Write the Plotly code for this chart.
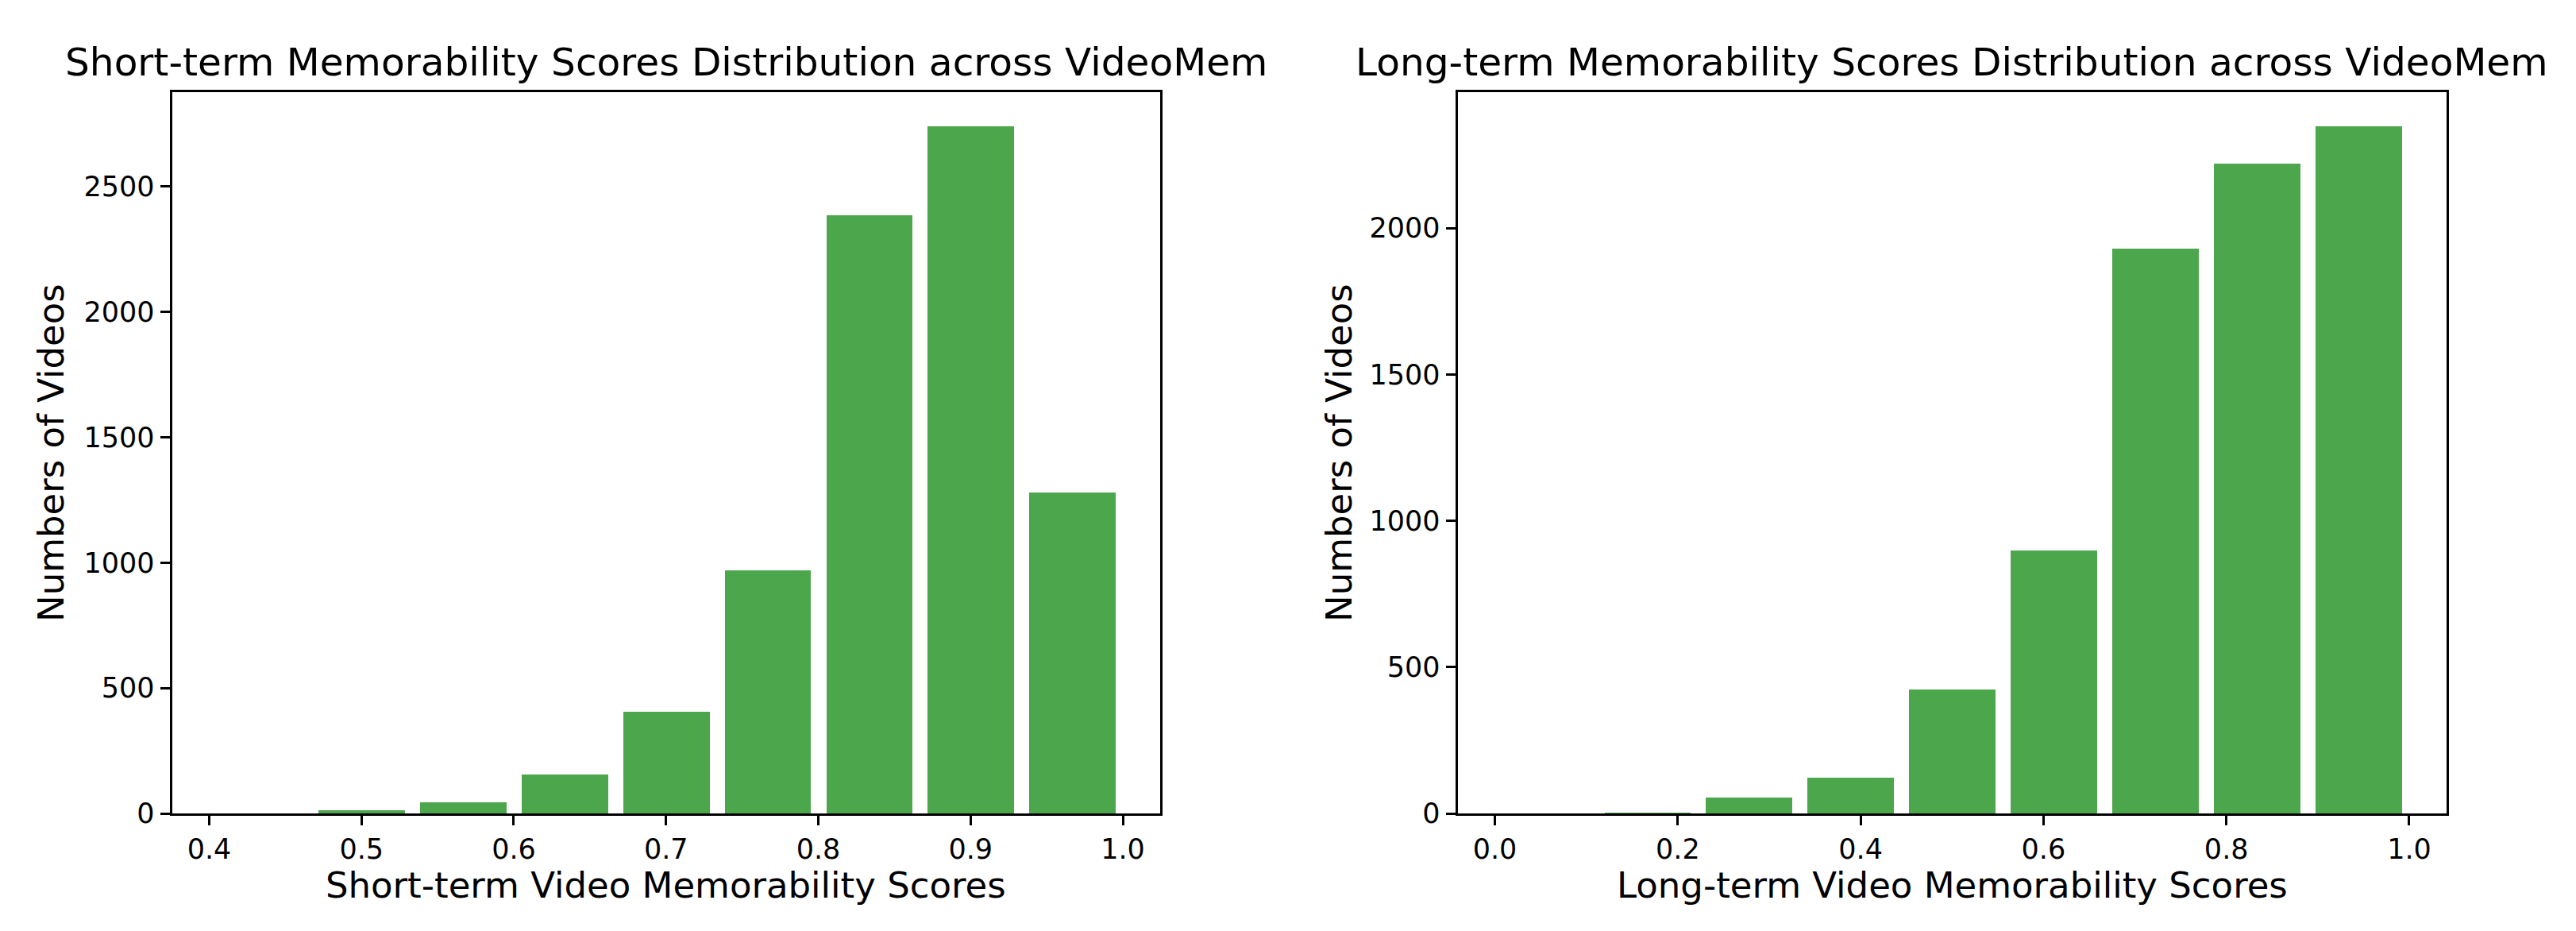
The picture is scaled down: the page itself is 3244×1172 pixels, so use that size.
import plotly.graph_objects as go

# ---- data ----
short_bin_edges = [0.4, 0.4667, 0.5333, 0.6, 0.6667, 0.7333, 0.8, 0.8667, 0.9333, 1.0]
short_counts = [1, 12, 43, 155, 405, 969, 2386, 2740, 1281]

long_bin_edges = [0.0, 0.1111, 0.2222, 0.3333, 0.4444, 0.5556, 0.6667, 0.7778, 0.8889, 1.0]
long_counts = [1, 4, 55, 121, 423, 898, 1929, 2219, 2347]

short_xticks = [0.4, 0.5, 0.6, 0.7, 0.8, 0.9, 1.0]
long_xticks = [0.0, 0.2, 0.4, 0.6, 0.8, 1.0]
short_yticks = [0, 500, 1000, 1500, 2000, 2500]
long_yticks = [0, 500, 1000, 1500, 2000]

titles = ["Short-term Memorability Scores Distribution across VideoMem",
          "Long-term Memorability Scores Distribution across VideoMem"]
xlabels = ["Short-term Video Memorability Scores", "Long-term Video Memorability Scores"]
ylabel = "Numbers of Videos"

RWIDTH = 0.85
BAR_COLOR = "rgba(0,128,0,0.7)"
FONT = "DejaVu Sans"
W = 3244
H = 1192            # page height; the capture maps it onto 1172 rows
K = 1172 / H        # vertical capture factor


def centers_widths(edges):
    c = [(edges[i] + edges[i + 1]) / 2 for i in range(len(edges) - 1)]
    w = [(edges[i + 1] - edges[i]) * RWIDTH for i in range(len(edges) - 1)]
    return c, w


fig = go.Figure()
sc, sw = centers_widths(short_bin_edges)
lc, lw = centers_widths(long_bin_edges)
fig.add_trace(go.Bar(x=sc, y=short_counts, width=sw, marker=dict(color=BAR_COLOR, line=dict(width=0)),
                     xaxis="x", yaxis="y", showlegend=False))
fig.add_trace(go.Bar(x=lc, y=long_counts, width=lw, marker=dict(color=BAR_COLOR, line=dict(width=0)),
                     xaxis="x2", yaxis="y2", showlegend=False))

left_px = (216.5, 1461)
right_px = (1835.5, 3081)
top_px, bot_px = 116, 1024


def xd(p):
    return [p[0] / W, p[1] / W]


def yp(px):
    # px: target row in the 1172-high capture, converted to paper fraction
    return (H - px / K) / H


ydom = [yp(bot_px), yp(top_px)]


def pad_range(edges, counts):
    c, w = centers_widths(edges)
    lo = c[0] - w[0] / 2
    hi = c[-1] + w[-1] / 2
    m = (hi - lo) * 0.05
    return [lo - m, hi + m], [0, max(counts) * 1.05]


sxr, syr = pad_range(short_bin_edges, short_counts)
lxr, lyr = pad_range(long_bin_edges, long_counts)

axis_common = dict(showline=True, linecolor="black", linewidth=2.8, mirror=True,
                   ticks="outside", ticklen=12, tickwidth=2.8, tickcolor="black",
                   showgrid=False, zeroline=False,
                   tickfont=dict(family=FONT, size=35, color="black"))

fig.update_layout(
    width=W, height=H,
    margin=dict(l=0, r=0, t=0, b=0),
    paper_bgcolor="white", plot_bgcolor="white",
    bargap=0,
    xaxis=dict(domain=xd(left_px), range=sxr, tickvals=short_xticks, tickformat=".1f",
               anchor="y", **axis_common),
    yaxis=dict(domain=ydom, range=syr, tickvals=short_yticks, anchor="x", **axis_common),
    xaxis2=dict(domain=xd(right_px), range=lxr, tickvals=long_xticks, tickformat=".1f",
                anchor="y2", **axis_common),
    yaxis2=dict(domain=ydom, range=lyr, tickvals=long_yticks, anchor="x2", **axis_common),
)

ann = []
for i, p in enumerate([left_px, right_px]):
    cx = (p[0] + p[1]) / 2 / W
    ann.append(dict(text=titles[i], x=cx, y=yp(78), xref="paper", yref="paper",
                    xanchor="center", yanchor="middle", showarrow=False,
                    font=dict(family=FONT, size=48.6, color="black")))
    ann.append(dict(text=xlabels[i], x=cx, y=yp(1114), xref="paper", yref="paper",
                    xanchor="center", yanchor="middle", showarrow=False,
                    font=dict(family=FONT, size=45, color="black")))
    ylx = (64 if i == 0 else 1686) / W
    ann.append(dict(text=ylabel, x=ylx, y=yp((top_px + bot_px) / 2), xref="paper", yref="paper",
                    xanchor="center", yanchor="middle", textangle=-90, showarrow=False,
                    font=dict(family=FONT, size=45, color="black")))
fig.update_layout(annotations=ann)

fig.write_html(
    "out.html",
    config={"displayModeBar": False},
    post_script=("document.documentElement.style.margin='0';"
                 "document.body.style.margin='0';document.body.style.padding='0';"
                 "document.documentElement.style.overflow='hidden';"
                 "document.body.style.overflow='hidden';"),
)
